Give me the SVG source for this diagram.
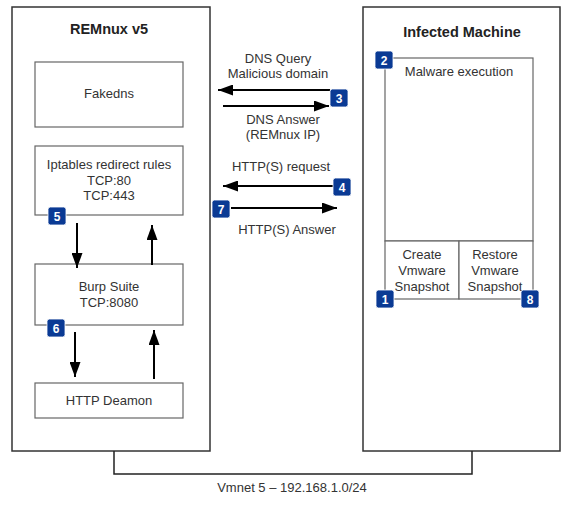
<svg xmlns="http://www.w3.org/2000/svg" width="580" height="509" viewBox="0 0 580 509">
<defs>
<marker id="ah" viewBox="0 0 15 11" refX="15" refY="5.5" markerWidth="15" markerHeight="11" markerUnits="userSpaceOnUse" orient="auto">
<path d="M0,0 L15,5.5 L0,11 Z" fill="#000"/>
</marker>
</defs>
<style>
.outer{fill:#fff;stroke:#333;stroke-width:1.5}
.inner{fill:#fff;stroke:#666;stroke-width:1.2}
.t{font-family:"Liberation Sans",Arial,sans-serif;font-size:13px;fill:#333;text-anchor:middle}
.h{font-family:"Liberation Sans",Arial,sans-serif;font-size:14.5px;font-weight:bold;fill:#222;text-anchor:middle}
.badge rect{fill:#0a3a94;stroke:#fff;stroke-width:0.8}
.badge text{font-family:"Liberation Sans",Arial,sans-serif;font-size:12px;font-weight:bold;fill:#fff;text-anchor:middle}
.arr{stroke:#000;stroke-width:2;fill:none;marker-end:url(#ah)}
.net{stroke:#222;stroke-width:1.5;fill:none}
</style>
<rect width="580" height="509" fill="#fff"/>

<g id="remnux">
<rect class="outer" x="12" y="7" width="198" height="444"/>
<text class="h" x="109" y="34">REMnux v5</text>
</g>
<g id="fakedns">
<rect class="inner" x="35" y="62" width="148" height="65"/>
<text class="t" x="109" y="98">Fakedns</text>
</g>
<g id="iptables">
<rect class="inner" x="35" y="146" width="148" height="69"/>
<text class="t" x="109" y="169">Iptables redirect rules</text>
<text class="t" x="109" y="185">TCP:80</text>
<text class="t" x="109" y="200">TCP:443</text>
</g>
<g id="burp">
<rect class="inner" x="35" y="264" width="148" height="61"/>
<text class="t" x="109" y="291">Burp Suite</text>
<text class="t" x="109" y="307">TCP:8080</text>
</g>
<g id="httpd">
<rect class="inner" x="35" y="383" width="148" height="35"/>
<text class="t" x="109" y="405">HTTP Deamon</text>
</g>

<g id="infected">
<rect class="outer" x="363" y="7" width="197" height="444"/>
<text class="h" x="462" y="37">Infected Machine</text>
</g>
<g id="malware">
<rect class="inner" x="385" y="58" width="148" height="183"/>
<text class="t" x="459" y="76">Malware execution</text>
</g>
<g id="create">
<rect class="inner" x="385" y="241" width="74" height="58"/>
<text class="t" x="422" y="259">Create</text>
<text class="t" x="422" y="275">Vmware</text>
<text class="t" x="422" y="291">Snapshot</text>
</g>
<g id="restore">
<rect class="inner" x="459" y="241" width="74" height="58"/>
<text class="t" x="495" y="259">Restore</text>
<text class="t" x="495" y="275">Vmware</text>
<text class="t" x="495" y="291">Snapshot</text>
</g>

<g id="connectors">
<path class="arr" d="M330,90 L218,90"/>
<path class="arr" d="M223,106 L329,106"/>
<path class="arr" d="M333,186 L223,186"/>
<path class="arr" d="M231,208 L337,208"/>
<path class="arr" d="M77,223 L77,268"/>
<path class="arr" d="M152,265 L152,225"/>
<path class="arr" d="M75,332 L75,377"/>
<path class="arr" d="M154,379 L154,330"/>
<path class="net" d="M114,451 L114,474 L472,474 L472,451"/>
</g>

<g id="labels">
<text class="t" x="278" y="63">DNS Query</text>
<text class="t" x="278" y="78">Malicious domain</text>
<text class="t" x="283" y="124">DNS Answer</text>
<text class="t" x="283" y="139">(REMnux IP)</text>
<text class="t" x="281" y="171">HTTP(S) request</text>
<text class="t" x="287" y="234">HTTP(S) Answer</text>
<text class="t" x="292" y="492">Vmnet 5 – 192.168.1.0/24</text>
</g>

<g id="badges">
<g class="badge" id="b1"><rect x="376" y="290" width="18" height="18" rx="2.5"/><text x="385" y="303.5">1</text></g>
<g class="badge" id="b2"><rect x="375" y="51" width="18" height="18" rx="2.5"/><text x="384" y="64.5">2</text></g>
<g class="badge" id="b3"><rect x="330" y="89" width="18" height="18" rx="2.5"/><text x="339" y="102.5">3</text></g>
<g class="badge" id="b4"><rect x="333" y="178" width="18" height="18" rx="2.5"/><text x="342" y="191.5">4</text></g>
<g class="badge" id="b5"><rect x="48" y="207" width="18" height="18" rx="2.5"/><text x="57" y="220.5">5</text></g>
<g class="badge" id="b6"><rect x="47" y="319" width="18" height="18" rx="2.5"/><text x="56" y="332.5">6</text></g>
<g class="badge" id="b7"><rect x="212" y="200" width="18" height="18" rx="2.5"/><text x="221" y="213.5">7</text></g>
<g class="badge" id="b8"><rect x="521" y="290" width="18" height="18" rx="2.5"/><text x="530" y="303.5">8</text></g>
</g>
</svg>
